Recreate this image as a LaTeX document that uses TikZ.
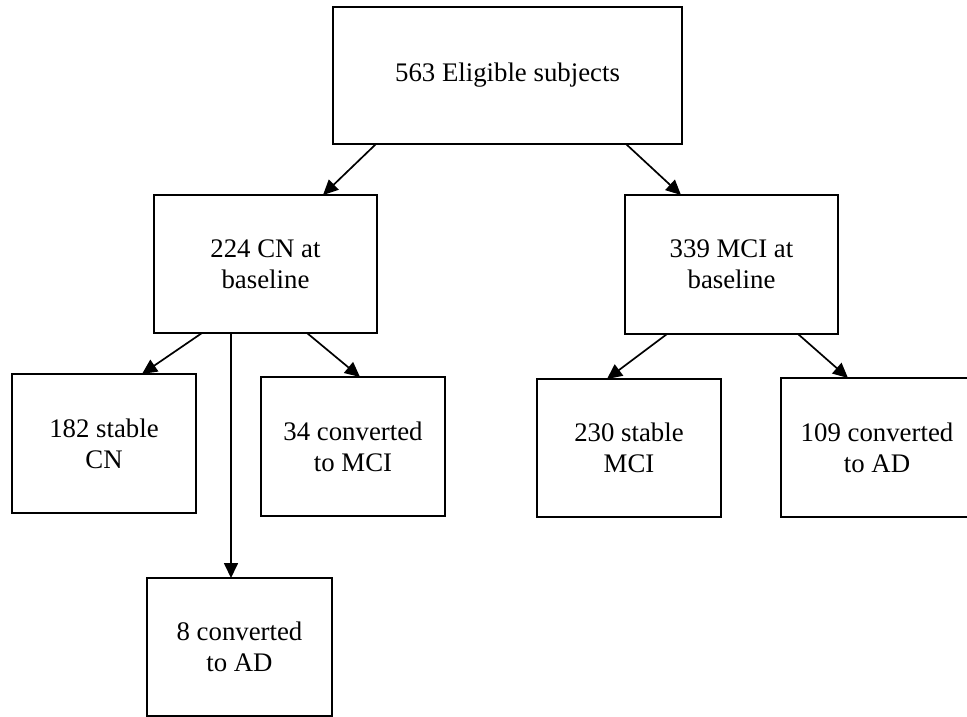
\documentclass[tikz,border=0pt]{standalone}
\usepackage{fontspec}
\setmainfont{Liberation Serif}
\usetikzlibrary{arrows.meta}
\tikzset{
  box/.style={draw=black, line width=1.9pt, inner sep=0pt, outer sep=0pt, align=center,
    font=\fontsize{26.8pt}{31pt}\selectfont},
  arr/.style={draw=black, line width=1.7pt, -{Triangle[length=15pt,width=14pt]}}
}
\begin{document}
\begin{tikzpicture}[x=1pt,y=-1pt]
\useasboundingbox (0,0) rectangle (967,717);
\clip (0,0) rectangle (967,717);
\node[box, minimum width=349pt, minimum height=137pt] (top) at (507.5,75.5) {563 Eligible subjects};
\node[box, minimum width=223pt, minimum height=138pt] (cn) at (265.5,264) {224 CN at\\baseline};
\node[box, minimum width=213pt, minimum height=139pt] (mci) at (731.5,264.5) {339 MCI at\\baseline};
\node[box, minimum width=184pt, minimum height=139pt] (s182) at (104,443.5) {182 stable\\CN};
\node[box, minimum width=184pt, minimum height=139pt] (c34) at (353,446.5) {34 converted\\to MCI};
\node[box, minimum width=184pt, minimum height=138pt] (s230) at (629,448) {230 stable\\MCI};
\node[box, minimum width=192pt, minimum height=139pt] (c109) at (877,447.5) {109 converted\\to AD};
\node[box, minimum width=185pt, minimum height=138pt] (c8) at (239.5,647) {8 converted\\to AD};

\draw[arr] ([xshift=-131.5pt]top.south) -- ([xshift=57.5pt]cn.north);
\draw[arr] ([xshift=118.5pt]top.south) -- ([xshift=-50.5pt]mci.north);
\draw[arr] ([xshift=-63.5pt]cn.south) -- ([xshift=38pt]s182.north);
\draw[arr] ([xshift=-34.5pt]cn.south) coordinate (v) -- (v |- c8.north);
\draw[arr] ([xshift=41.5pt]cn.south) -- ([xshift=7pt]c34.north);
\draw[arr] ([xshift=-64.5pt]mci.south) -- ([xshift=-22pt]s230.north);
\draw[arr] ([xshift=66.5pt]mci.south) -- ([xshift=-29pt]c109.north);
\end{tikzpicture}
\end{document}
